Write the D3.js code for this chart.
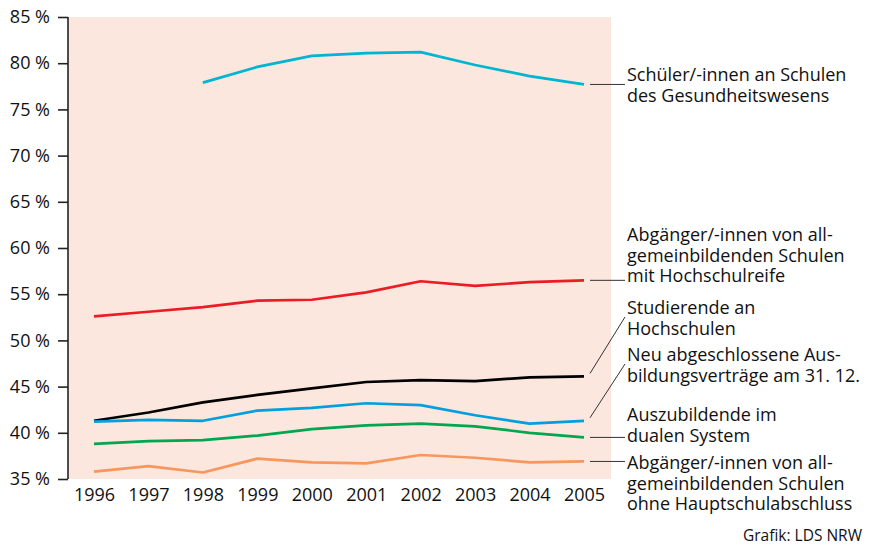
<!DOCTYPE html>
<html>
<head>
<meta charset="utf-8">
<script src="https://cdn.jsdelivr.net/npm/d3@7"></script>
<style>
	body { margin: 0; background: #fff; }
	svg text { font-family: "Open Sans", "DejaVu Sans", sans-serif; fill: #111; }
	.leader { stroke: #333; stroke-width: 1; fill: none; }
	.series { fill: none; stroke-width: 2.7; stroke-linejoin: round; }
</style>
</head>
<body>
<div id="graphic"></div>
<script>
// Data (share of women, percent)
var YEARS = [1996, 1997, 1998, 1999, 2000, 2001, 2002, 2003, 2004, 2005];
var Y_TICKS = [35, 40, 45, 50, 55, 60, 65, 70, 75, 80, 85];

var GESUNDHEIT = [null, null, 77.9, 79.6, 80.8, 81.1, 81.2, 79.8, 78.6, 77.7];
var HOCHSCHULREIFE = [52.6, 53.1, 53.6, 54.3, 54.4, 55.2, 56.4, 55.9, 56.3, 56.5];
var STUDIERENDE = [41.3, 42.2, 43.3, 44.1, 44.8, 45.5, 45.7, 45.6, 46.0, 46.1];
var NEUVERTRAEGE = [41.2, 41.4, 41.3, 42.4, 42.7, 43.2, 43.0, 41.9, 41.0, 41.3];
var AUSZUBILDENDE = [38.8, 39.1, 39.2, 39.7, 40.4, 40.8, 41.0, 40.7, 40.0, 39.5];
var OHNE_ABSCHLUSS = [35.8, 36.4, 35.7, 37.2, 36.8, 36.7, 37.6, 37.3, 36.8, 36.9];

var SERIES = [
	{ values: GESUNDHEIT, color: '#00b5d1',
	  lines: ['Schüler/-innen an Schulen', 'des Gesundheitswesens'], textY: 81, elbow: null },
	{ values: HOCHSCHULREIFE, color: '#ec1c24',
	  lines: ['Abgänger/-innen von all-', 'gemeinbildenden Schulen', 'mit Hochschulreife'], textY: 241, elbow: null },
	{ values: STUDIERENDE, color: '#000000',
	  lines: ['Studierende an', 'Hochschulen'], textY: 314, elbow: 317 },
	{ values: NEUVERTRAEGE, color: '#009fe0',
	  lines: ['Neu abgeschlossene Aus-', 'bildungsverträge am 31. 12.'], textY: 361, elbow: 364 },
	{ values: AUSZUBILDENDE, color: '#00a650',
	  lines: ['Auszubildende im', 'dualen System'], textY: 421, elbow: null },
	{ values: OHNE_ABSCHLUSS, color: '#f7975d',
	  lines: ['Abgänger/-innen von all-', 'gemeinbildenden Schulen', 'ohne Hauptschulabschluss'], textY: 469, elbow: null }
];

var WIDTH = 869;
var HEIGHT = 547;

function render() {
	var svg = d3.select('#graphic').append('svg')
		.attr('width', WIDTH)
		.attr('height', HEIGHT);

	var plotLeft = 68, plotRight = 611, plotTop = 17, plotBottom = 479;

	var xScale = d3.scaleLinear()
		.domain([1996, 2005])
		.range([94, 584]);

	var yScale = d3.scaleLinear()
		.domain([35, 85])
		.range([plotBottom, plotTop]);

	// Background
	svg.append('rect')
		.attr('x', plotLeft)
		.attr('y', plotTop)
		.attr('width', plotRight - plotLeft)
		.attr('height', plotBottom - plotTop)
		.attr('fill', '#fbe7dd');

	// Y axis
	var yAxis = d3.axisLeft(yScale)
		.tickValues(Y_TICKS)
		.tickSize(10)
		.tickPadding(8)
		.tickFormat(function(d) { return d + ' %'; });

	var yAxisElement = svg.append('g')
		.attr('transform', 'translate(' + plotLeft + ',0)')
		.call(yAxis);

	yAxisElement.select('.domain').remove();
	yAxisElement.selectAll('line').attr('stroke', '#222').attr('stroke-width', 1.6);
	yAxisElement.selectAll('text')
		.style('font-size', '18px')
		.attr('fill', '#111');

	svg.append('line')
		.attr('x1', plotLeft).attr('x2', plotLeft)
		.attr('y1', plotTop).attr('y2', plotBottom)
		.attr('stroke', '#222')
		.attr('stroke-width', 1.6);

	// X axis labels
	var xAxis = d3.axisBottom(xScale)
		.tickValues(YEARS)
		.tickSize(0)
		.tickPadding(9)
		.tickFormat(d3.format('d'));

	var xAxisElement = svg.append('g')
		.attr('transform', 'translate(0,' + plotBottom + ')')
		.call(xAxis);

	xAxisElement.select('.domain').remove();
	xAxisElement.selectAll('text').style('font-size', '18px');

	// Lines
	var line = d3.line()
		.defined(function(d) { return d != null; })
		.x(function(d, i) { return xScale(YEARS[i]); })
		.y(function(d) { return yScale(d); });

	svg.append('g')
		.selectAll('path')
		.data(SERIES)
		.enter().append('path')
		.attr('class', 'series')
		.attr('stroke', function(d) { return d.color; })
		.attr('d', function(d) { return line(d.values); });

	// Leaders and labels
	var textX = 627;
	var lineHeight = 20.5;

	SERIES.forEach(function(s) {
		var lastY = yScale(s.values[s.values.length - 1]);
		var x0 = xScale(2005) + 6;
		if (s.elbow) {
			svg.append('line')
				.attr('class', 'leader')
				.attr('x1', x0).attr('y1', lastY - 3)
				.attr('x2', textX - 2).attr('y2', s.elbow);
		} else {
			svg.append('line')
				.attr('class', 'leader')
				.attr('x1', x0).attr('y1', lastY)
				.attr('x2', textX - 2).attr('y2', lastY);
		}

		var text = svg.append('text')
			.attr('x', textX)
			.attr('y', s.textY)
			.style('font-size', '18px');

		text.selectAll('tspan')
			.data(s.lines)
			.enter().append('tspan')
			.attr('x', textX)
			.attr('y', function(d, i) { return s.textY + i * lineHeight; })
			.text(function(d) { return d; });
	});

	svg.append('text')
		.attr('x', 862)
		.attr('y', 541)
		.attr('text-anchor', 'end')
		.style('font-size', '15.5px')
		.text('Grafik: LDS NRW');
}

render();
</script>
</body>
</html>
